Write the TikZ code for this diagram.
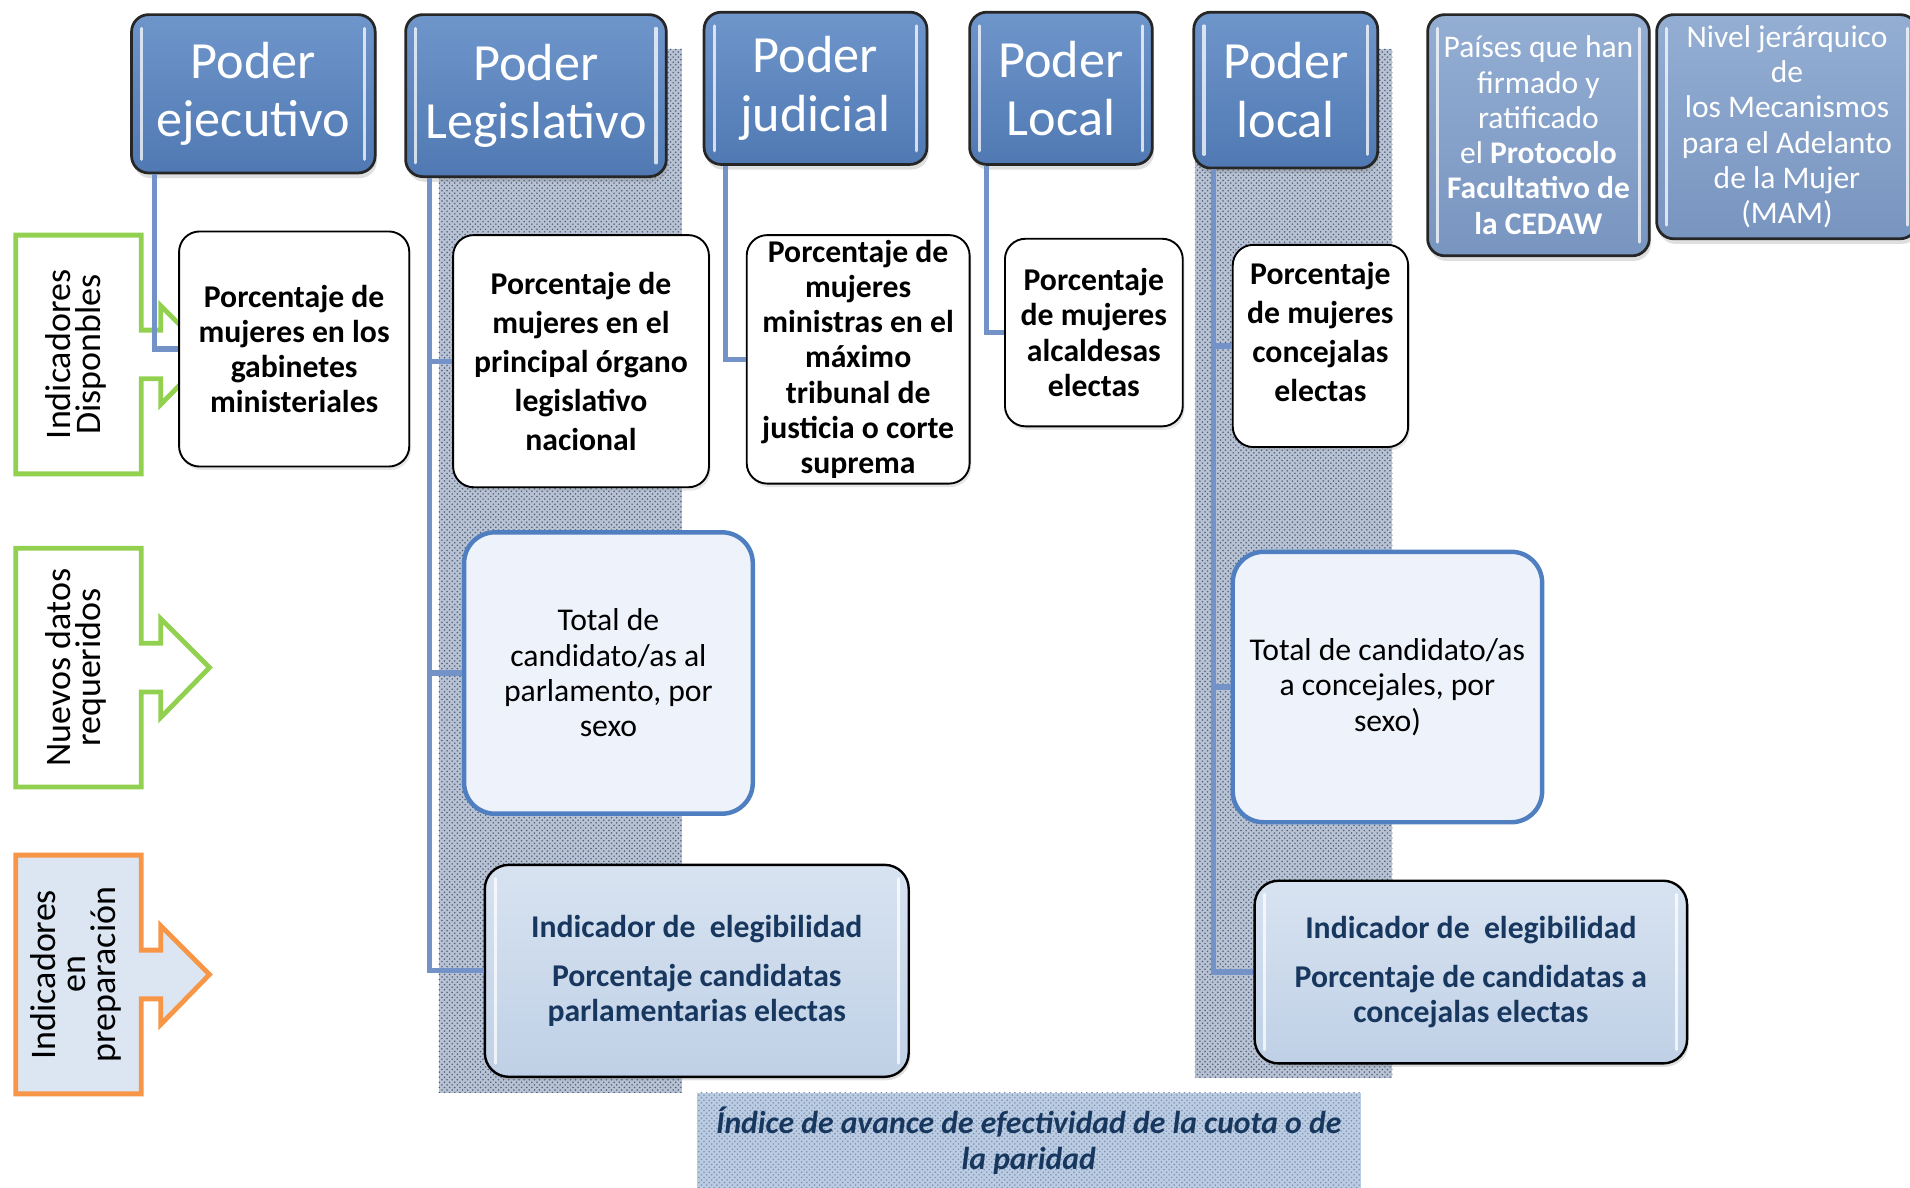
\documentclass[tikz,border=0pt]{standalone}
\usepackage{fontspec}
\setmainfont{Carlito}
\usetikzlibrary{patterns,shadows}

\definecolor{hdrtop}{HTML}{6F96CB}
\definecolor{hdrbot}{HTML}{5079B3}
\definecolor{hdrlighttop}{HTML}{94AED3}
\definecolor{hdrlightbot}{HTML}{7895C0}
\definecolor{connblue}{HTML}{7393C8}
\definecolor{boxblue}{HTML}{4F7FC0}
\definecolor{boxfill}{HTML}{EEF2FA}
\definecolor{navy}{HTML}{17375E}
\definecolor{ctop}{HTML}{D8E3F1}
\definecolor{cbot}{HTML}{BFD0E6}
\definecolor{hatchbg}{HTML}{B8C2D2}
\definecolor{hatchdot}{HTML}{4A5F80}
\definecolor{greenarr}{HTML}{92D050}
\definecolor{orangearr}{HTML}{F79646}
\definecolor{orangefill}{HTML}{DCE6F2}
\definecolor{idxfill}{HTML}{B9CCE4}

\tikzset{
  % box from (x1,y1) to (x2,y2), picture units
  span/.style n args={4}{at={({(#1+#3)/2},{(#2+#4)/2})},
    minimum width={(#3-#1)*0.025cm}, minimum height={(#4-#2)*0.025cm}},
  gloss/.style={path picture={
      \draw[white, line width=1.8pt, opacity=0.75, line cap=round]
        ([shift={(6pt,-8pt)}]path picture bounding box.north west) --
        ([shift={(6pt,8pt)}]path picture bounding box.south west)
        ([shift={(-6pt,-8pt)}]path picture bounding box.north east) --
        ([shift={(-6pt,8pt)}]path picture bounding box.south east);}},
  hdr/.style={draw=black!85, line width=1.6pt, rounded corners=10pt,
    top color=hdrtop, bottom color=hdrbot, text=white, align=center,
    inner sep=0pt, gloss, font=\fontsize{30.5}{34}\selectfont,
    drop shadow={opacity=0.25, shadow xshift=1pt, shadow yshift=-3pt}},
  hdrlight/.style={hdr, top color=hdrlighttop, bottom color=hdrlightbot,
    font=\fontsize{18.4}{20.6}\selectfont},
  ind/.style={draw=black, line width=1.1pt, rounded corners=12pt, fill=white,
    align=center, inner sep=0pt, font=\bfseries\fontsize{18.5}{20.6}\selectfont,
    drop shadow={opacity=0.2, shadow xshift=1pt, shadow yshift=-2pt}},
  newdata/.style={draw=boxblue, line width=2.6pt, rounded corners=18pt,
    fill=boxfill, align=center, inner sep=0pt,
    font=\fontsize{18.5}{20.6}\selectfont},
  prep/.style={draw=black, line width=1.4pt, rounded corners=14pt,
    top color=ctop, bottom color=cbot, text=navy, align=center, inner sep=0pt,
    gloss, font=\bfseries\fontsize{18.5}{20.6}\selectfont,
    drop shadow={opacity=0.25, shadow xshift=1pt, shadow yshift=-2pt}},
  conn/.style={draw=connblue, line width=3pt},
  hatch/.style={fill=hatchbg, postaction={pattern=crosshatch dots, pattern color=hatchdot}},
  sidelbl/.style={rotate=90, align=center, font=\fontsize{21}{17.5}\selectfont}
}

\begin{document}
\begin{tikzpicture}[x=0.025cm, y=-0.025cm]
\useasboundingbox (0,0) rectangle (1568,975);

% hatched columns
\fill[hatch] (360,40) rectangle (560,897);
\fill[hatch] (981,40) rectangle (1143,885);

% side arrows
\foreach \t/\col/\bg in {193/greenarr/white, 450/greenarr/white, 702/orangearr/orangefill}
  \draw[draw=\col, fill=\bg, line width=2.8pt, line join=miter]
    (13,\t) -- (116,\t) -- (116,\t+78) -- (132,\t+78) -- (132,\t+58) -- (172,\t+98)
    -- (132,\t+139) -- (132,\t+118) -- (116,\t+118) -- (116,\t+196) -- (13,\t+196) -- cycle;

\node[sidelbl] (disp) at (62,291) {Indicadores\\Disponbles};
\node[sidelbl] (nuevos) at (62,548) {Nuevos datos\\requeridos};
\node[sidelbl] (enprep) at (62,800) {Indicadores\\en\\preparación};

% headers
\node[hdr, span={108}{12}{308}{142}] (ejec) {Poder\\ejecutivo};
\node[hdr, span={333}{12}{547}{145}] (legis) {Poder\\Legislativo};
\node[hdr, span={578}{10}{761}{135}] (judic) {Poder\\judicial};
\node[hdr, span={796}{10}{946}{135}] (locA) {Poder\\Local};
\node[hdr, span={980}{10}{1131}{138}] (locB) {Poder\\local};
\node[hdrlight, span={1172}{12}{1354}{210}] (cedaw) {Países que han\\firmado y\\ratificado\\el \textbf{Protocolo}\\\textbf{Facultativo de}\\\textbf{la CEDAW}};
\node[hdrlight, span={1360}{12}{1574}{196}] (mam) {Nivel jerárquico\\de\\los Mecanismos\\para el Adelanto\\de la Mujer\\(MAM)};

% available indicators
\node[ind, span={147}{190}{336}{383}] (gab) {Porcentaje de\\mujeres en los\\gabinetes\\ministeriales};
\node[ind, span={372}{193}{582}{400}, font=\bfseries\fontsize{18.5}{22.8}\selectfont] (parl) {Porcentaje de\\mujeres en el\\principal órgano\\legislativo\\nacional};
\node[ind, span={613}{193}{796}{397}] (corte) {Porcentaje de\\mujeres\\ministras en el\\máximo\\tribunal de\\justicia o corte\\suprema};
\node[ind, span={825}{196}{971}{350}] (alcal) {Porcentaje\\de mujeres\\alcaldesas\\electas};
\node[ind, span={1012}{201}{1156}{367}, font=\bfseries\fontsize{18.5}{22.8}\selectfont] (conce) {Porcentaje\\de mujeres\\concejalas\\electas\\[-6pt]};

% new data
\node[newdata, span={381}{437}{618}{668}] (cand) {Total de\\candidato/as al\\parlamento, por\\sexo};
\node[newdata, span={1012}{453}{1266}{675}] (candB) {Total de candidato/as\\a concejales, por\\sexo)};

% indicators in preparation
\node[prep, span={398}{710}{746}{884}] (elegA) {Indicador de\ \ elegibilidad\\[8pt]Porcentaje candidatas\\parlamentarias electas};
\node[prep, span={1030}{723}{1385}{873}] (elegB) {Indicador de\ \ elegibilidad\\[8pt]Porcentaje de candidatas a\\concejalas electas};

% index box
\node[span={572}{897}{1117}{976}, inner sep=0pt, fill=idxfill,
  postaction={pattern=crosshatch dots, pattern color=hatchdot!70},
  text=navy, align=center, font=\bfseries\itshape\fontsize{18.5}{20.6}\selectfont]
  (indice) {Índice de avance de efectividad de la cuota o de\\la paridad};

% connectors
\draw[conn] (ejec.south west) ++(20,0) |- (gab.west);
\draw[conn] (legis.south west) ++(21,0) |- (parl.west);
\draw[conn] (legis.south west) ++(21,0) |- (cand.west);
\draw[conn] (legis.south west) ++(21,0) |- (elegA.west);
\draw[conn] (judic.south west) ++(19,0) |- (corte.west);
\draw[conn] (locA.south west) ++(15,0) |- (alcal.west);
\draw[conn] (locB.south west) ++(17,0) |- (conce.west);
\draw[conn] (locB.south west) ++(17,0) |- (candB.west);
\draw[conn] (locB.south west) ++(17,0) |- (elegB.west);
\end{tikzpicture}
\end{document}
